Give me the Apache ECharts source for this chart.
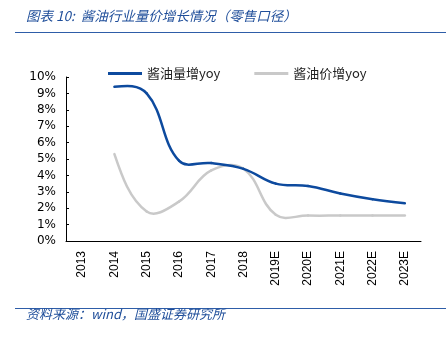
<!DOCTYPE html>
<html>
<head>
<meta charset="utf-8">
<script src="https://cdn.jsdelivr.net/npm/echarts@6/dist/echarts.min.js"></script>
<style>html,body{margin:0;padding:0;background:#fff;}#c{width:446px;height:344px;}</style>
</head>
<body>
<div id="c"></div>
<script>
var categories = ['2013','2014','2015','2016','2017','2018','2019E','2020E','2021E','2022E','2023E'];
var volumeYoy = [null, 9.4, 9.0, 4.9, 4.75, 4.4, 3.5, 3.35, 2.9, 2.55, 2.3];
var priceYoy = [null, 5.3, 1.8, 2.4, 4.3, 4.4, 1.6, 1.55, 1.55, 1.55, 1.55];
var seriesNames = ['酱油量增yoy', '酱油价增yoy'];
var titleText = '图表 10:  酱油行业量价增长情况（零售口径）';
var sourceText = '资料来源：wind，国盛证券研究所';

var chart = echarts.init(document.getElementById('c'), null, {renderer: 'canvas'});
var blue = '#0D4A9E';
var gray = '#C9C9C9';
var textBlue = '#1F4E9A';
var SMOOTH = 0.4;

// Smooth line drawn segment by segment, positions taken from the axis scales (api.coord)
function smoothLine(name, values, color, z) {
  return {
    name: name, type: 'custom', z: z,
    itemStyle: {color: color},
    encode: {x: 0, y: 1},
    data: values.map(function (v, i) { return [i, v == null ? 0 : v]; }),
    renderItem: function (params, api) {
      var i = params.dataIndex;
      var n = values.length;
      if (i >= n - 1 || values[i] == null || values[i + 1] == null) return null;
      var idx = [];
      for (var j = 0; j < n; j++) if (values[j] != null) idx.push(j);
      var P = idx.map(function (j) { return api.coord([j, values[j]]); });
      var m = P.length;
      var cpN = [], cpP = [];
      function d(a, b) { return Math.sqrt((a[0]-b[0])*(a[0]-b[0]) + (a[1]-b[1])*(a[1]-b[1])); }
      for (var k = 1; k < m - 1; k++) {
        var vx = P[k+1][0] - P[k-1][0], vy = P[k+1][1] - P[k-1][1];
        var lp = d(P[k], P[k-1]), ln = d(P[k], P[k+1]);
        var rn = ln / (lp + ln), rp = lp / (lp + ln);
        cpN[k] = [P[k][0] + vx * SMOOTH * rn, P[k][1] + vy * SMOOTH * rn];
        cpP[k] = [P[k][0] - vx * SMOOTH * rp, P[k][1] - vy * SMOOTH * rp];
      }
      cpN[0] = [P[0][0] + (cpP[1][0] - P[0][0]) * 0.5, P[0][1] + (cpP[1][1] - P[0][1]) * 0.5];
      cpP[m-1] = [P[m-1][0] + (cpN[m-2][0] - P[m-1][0]) * 0.5, P[m-1][1] + (cpN[m-2][1] - P[m-1][1]) * 0.5];
      var a = idx.indexOf(i);
      var p1 = P[a], p2 = P[a+1], c1 = cpN[a], c2 = cpP[a+1];
      return {
        type: 'bezierCurve',
        shape: {x1: p1[0], y1: p1[1], x2: p2[0], y2: p2[1], cpx1: c1[0], cpy1: c1[1], cpx2: c2[0], cpy2: c2[1]},
        style: {stroke: color, lineWidth: 2.5, fill: null, lineCap: 'round'}
      };
    }
  };
}

chart.setOption({
  animation: false,
  backgroundColor: '#fff',
  graphic: [
    {type: 'text', left: 26, top: 9, style: {text: titleText, fill: textBlue, font: 'italic 13.5px "Noto Sans CJK SC"'}},
    {type: 'line', shape: {x1: 15, y1: 32.5, x2: 446, y2: 32.5}, style: {stroke: '#2E5DA8', lineWidth: 1.2}},
    {type: 'line', shape: {x1: 15, y1: 308.5, x2: 446, y2: 308.5}, style: {stroke: '#2E5DA8', lineWidth: 1.2}},
    {type: 'text', left: 26, top: 308, style: {text: sourceText, fill: textBlue, font: 'italic 13px "Noto Sans CJK SC"'}}
  ],
  legend: {
    left: 103, top: 62,
    itemWidth: 34, itemHeight: 3, itemGap: 34,
    icon: 'rect',
    textStyle: {fontSize: 13, color: '#222', fontFamily: '"Noto Sans CJK SC"'},
    data: seriesNames
  },
  grid: {left: 66, right: 25, top: 77, bottom: 103},
  xAxis: {
    type: 'category',
    data: categories,
    boundaryGap: true,
    axisLine: {lineStyle: {color: '#000', width: 1}},
    axisTick: {inside: true, length: 4, lineStyle: {color: '#000'}},
    axisLabel: {rotate: 90, color: '#000', fontSize: 12, fontFamily: '"Liberation Sans"', margin: 10}
  },
  yAxis: {
    type: 'value',
    min: 0, max: 10, interval: 1,
    splitLine: {show: false},
    axisLine: {show: true, lineStyle: {color: '#000', width: 1}},
    axisTick: {show: true, inside: true, length: 3, lineStyle: {color: '#000'}},
    axisLabel: {formatter: '{value}%', color: '#000', fontSize: 12, fontFamily: '"DejaVu Sans"', margin: 10}
  },
  series: [
    smoothLine(seriesNames[0], volumeYoy, blue, 3),
    smoothLine(seriesNames[1], priceYoy, gray, 2)
  ]
});
</script>
</body>
</html>
